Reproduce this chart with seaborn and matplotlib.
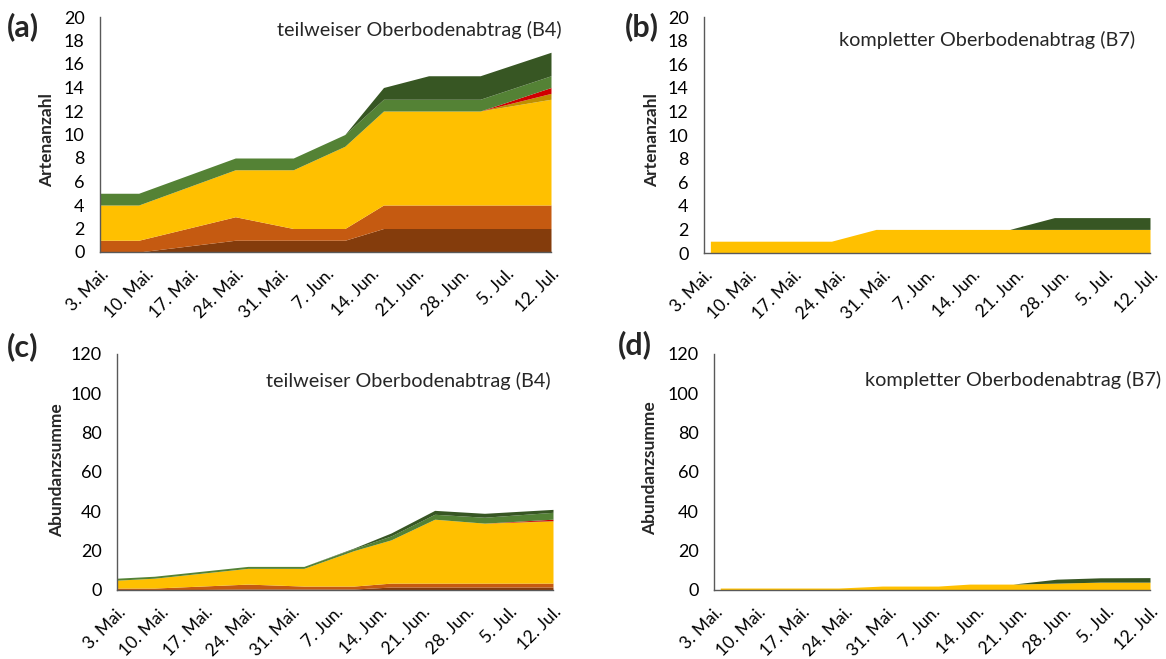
import matplotlib
matplotlib.use("Agg")
import matplotlib.pyplot as plt
import seaborn as sns
import pandas as pd

# ---------------- data ----------------
tick_labels = ["3. Mai.", "10. Mai.", "17. Mai.", "24. Mai.", "31. Mai.", "7. Jun.",
               "14. Jun.", "21. Jun.", "28. Jun.", "5. Jul.", "12. Jul."]
tick_start = "2021-05-03"

# survey dates
dates_b4 = ["2021-05-03", "2021-05-09", "2021-05-24", "2021-06-02", "2021-06-10",
            "2021-06-16", "2021-06-23", "2021-07-01", "2021-07-12"]
dates_b7 = ["2021-05-04", "2021-05-23", "2021-05-30", "2021-06-08", "2021-06-13",
            "2021-06-20", "2021-06-27", "2021-07-04", "2021-07-12"]

groups = ["g1", "g2", "g3", "g4", "g5", "g6", "g7"]
group_colors = ["#843C0C", "#C55A11", "#FFC000", "#BF9000", "#D00000", "#548235", "#375623"]

# (a) Artenanzahl B4
a_g1 = [0, 0, 1, 1, 1, 2, 2, 2, 2]
a_g2 = [1, 1, 2, 1, 1, 2, 2, 2, 2]
a_g3 = [3, 3, 4, 5, 7, 8, 8, 8, 9]
a_g4 = [0, 0, 0, 0, 0, 0, 0, 0, 0.5]
a_g5 = [0, 0, 0, 0, 0, 0, 0, 0, 0.5]
a_g6 = [1, 1, 1, 1, 1, 1, 1, 1, 1]
a_g7 = [0, 0, 0, 0, 0, 1, 2, 2, 2]

# (b) Artenanzahl B7
b_g3 = [1, 1, 2, 2, 2, 2, 2, 2, 2]
b_g7 = [0, 0, 0, 0, 0, 0, 1, 1, 1]

# (c) Abundanzsumme B4
c_g1 = [0, 0, 0.5, 0.5, 0.5, 1.5, 1.5, 1.5, 1.5]
c_g2 = [1, 1, 2.5, 1.5, 1.5, 2, 2, 2, 2]
c_g3 = [4, 5, 8, 9, 18, 22, 32.5, 30.5, 31.5]
c_g4 = [0, 0, 0, 0, 0, 0, 0, 0, 0.3]
c_g5 = [0, 0, 0, 0, 0, 0, 0, 0, 0.7]
c_g6 = [1, 1, 1, 1, 1, 2, 2.5, 3, 3.5]
c_g7 = [0, 0, 0, 0, 0.3, 1.5, 2, 2, 1.5]

# (d) Abundanzsumme B7
d_g3 = [1, 1, 2, 2, 3, 3, 3.5, 4, 4]
d_g7 = [0, 0, 0, 0, 0, 0, 2, 2.2, 2.3]

# ---------------- style ----------------
sns.set_theme(style="white")
plt.rcParams["font.family"] = ["Lato", "DejaVu Sans"]

W, H = 1166, 659
fig = plt.figure(figsize=(W / 100, H / 100), dpi=100)


def px_axes(l, r, t, b):
    return fig.add_axes([l / W, 1 - b / H, (r - l) / W, (b - t) / H])


tick_dates = pd.date_range(tick_start, periods=len(tick_labels), freq="7D")


def draw(ax, dates, layers, ymax, ystep):
    df = pd.DataFrame({"date": pd.to_datetime(dates)})
    cols, vals = [], []
    for g, c, v in zip(groups, group_colors, layers):
        if v is None:
            continue
        df[g] = v
        cols.append(c)
        vals.append(df[g].values)
    ax.stackplot(df["date"], *vals, colors=cols, linewidth=0)
    ax.set_xlim(tick_dates[0], tick_dates[-1])
    ax.set_ylim(0, ymax)
    ax.set_yticks(range(0, ymax + 1, ystep))
    ax.set_xticks(tick_dates)
    ax.set_xticklabels(tick_labels, rotation=45, ha="right", rotation_mode="anchor")
    ax.tick_params(axis="y", length=0, pad=11, labelsize=13, colors="#000000")
    ax.tick_params(axis="x", length=0, pad=10, labelsize=12.5, colors="#000000")
    sns.despine(ax=ax)
    for s in ("left", "bottom"):
        ax.spines[s].set_color("#595959")
        ax.spines[s].set_linewidth(1.0)
    ax.grid(False)
    ax.set_facecolor("white")


ax_a = px_axes(100, 551, 17, 252)
draw(ax_a, dates_b4, [a_g1, a_g2, a_g3, a_g4, a_g5, a_g6, a_g7], 20, 2)

ax_b = px_axes(704, 1150, 17, 253)
draw(ax_b, dates_b7, [None, None, b_g3, None, None, None, b_g7], 20, 2)

ax_c = px_axes(117, 553, 354, 590)
draw(ax_c, dates_b4, [c_g1, c_g2, c_g3, c_g4, c_g5, c_g6, c_g7], 120, 20)

ax_d = px_axes(714, 1150, 354, 590)
draw(ax_d, dates_b7, [None, None, d_g3, None, None, None, d_g7], 120, 20)


def ftext(x, y, s, **kw):
    fig.text(x / W, 1 - y / H, s, **kw)


# panel letters
for x, y, s in [(7, 27, "(a)"), (625, 27, "(b)"), (7, 347, "(c)"), (618, 345, "(d)")]:
    ftext(x, y, s, fontsize=22, fontweight="bold", ha="left", va="center")

# titles
for x, y, s in [(562, 30, "teilweiser Oberbodenabtrag (B4)"),
                (1135, 40, "kompletter Oberbodenabtrag (B7)"),
                (551, 381, "teilweiser Oberbodenabtrag (B4)"),
                (1161, 380, "kompletter Oberbodenabtrag (B7)")]:
    ftext(x, y, s, fontsize=14.3, ha="right", va="center")

# y labels
for x, y, s in [(47, 140, "Artenanzahl"), (652, 140, "Artenanzahl"),
                (57, 470, "Abundanzsumme"), (650, 468, "Abundanzsumme")]:
    ftext(x, y, s, fontsize=12.5, fontweight="bold", rotation=90, ha="center", va="center")

fig.savefig("out.png", dpi=100, facecolor="white")
